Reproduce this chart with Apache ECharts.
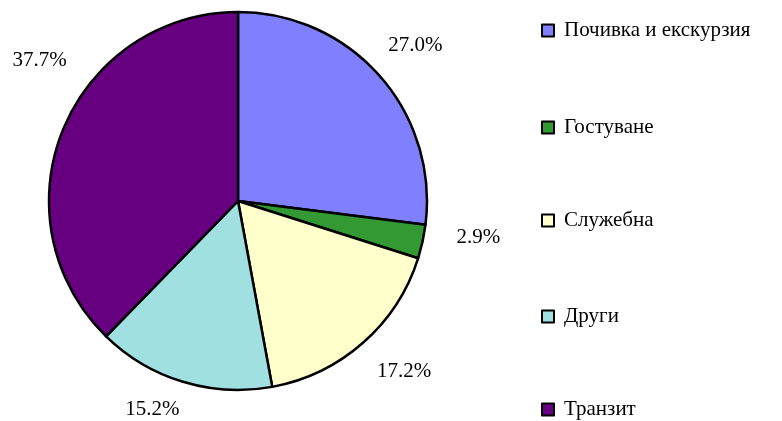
<!DOCTYPE html>
<html>
<head>
<meta charset="utf-8">
<script src="https://cdn.jsdelivr.net/npm/echarts@6/dist/echarts.min.js"></script>
<style>
  html, body { margin: 0; padding: 0; background: #fff; }
  #chart { width: 782px; height: 421px; }
</style>
</head>
<body>
<div id="chart"></div>
<script>
// категории и стойности
const categories = ['Почивка и екскурзия', 'Гостуване', 'Служебна', 'Други', 'Транзит']
const values = [27.0, 2.9, 17.2, 15.2, 37.7]
const colors = ['#8080FF', '#339933', '#FFFFCC', '#A0E0E0', '#660080']
// изместване на етикетите спрямо средата на пръстена
const labelOffsets = [[-2, 3], [7, -15], [8, -9], [-16, -20], [23, -50]]
// вертикални позиции на елементите в легендата
const legendTops = [20, 117, 210, 306, 399]

const font = '"Liberation Serif", "Times New Roman", serif'
const center = [238, 201]

let chart = echarts.init(document.getElementById('chart'))

let pieData = categories.map(function (name, i) {
  return { name: name, value: values[i], itemStyle: { color: colors[i] } }
})
// прозрачен пръстен само за етикетите
let labelData = categories.map(function (name, i) {
  return {
    name: name,
    value: values[i],
    label: { offset: labelOffsets[i] }
  }
})

// по една легенда за всяка категория, за да няма пренасяне
let legends = categories.map(function (name, i) {
  return {
    orient: 'vertical',
    left: 541,
    top: legendTops[i],
    padding: 0,
    itemWidth: 12,
    itemHeight: 12,
    icon: 'rect',
    selectedMode: false,
    data: [name],
    textStyle: {
      fontFamily: font,
      fontSize: 21,
      color: '#000',
      padding: [0, 0, 0, 5]
    }
  }
})

let option = {
  animation: false,
  legend: legends,
  series: [
    {
      type: 'pie',
      center: center,
      radius: [0, 189],
      startAngle: 90,
      clockwise: true,
      label: { show: false },
      labelLine: { show: false },
      itemStyle: { borderColor: '#000', borderWidth: 2.5 },
      emphasis: { disabled: true },
      data: pieData
    },
    {
      type: 'pie',
      center: center,
      radius: [190, 282],
      startAngle: 90,
      clockwise: true,
      silent: true,
      legendHoverLink: false,
      itemStyle: { color: 'rgba(0,0,0,0)', borderWidth: 0 },
      label: {
        show: true,
        position: 'inside',
        fontFamily: font,
        fontSize: 21,
        color: '#000',
        formatter: function (p) {
          return values[p.dataIndex].toFixed(1) + '%'
        }
      },
      labelLine: { show: false },
      emphasis: { disabled: true },
      data: labelData
    }
  ]
}
chart.setOption(option)
</script>
</body>
</html>
